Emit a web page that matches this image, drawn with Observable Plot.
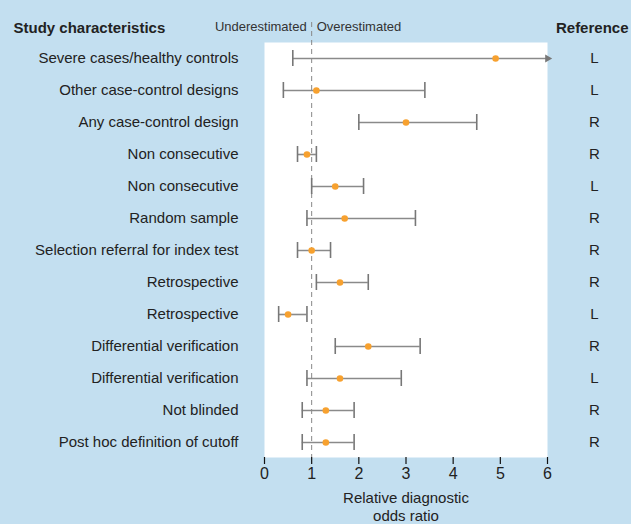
<!DOCTYPE html>
<html><head><meta charset="utf-8">
<script src="https://cdn.jsdelivr.net/npm/d3@7"></script>
<script src="https://cdn.jsdelivr.net/npm/@observablehq/plot@0.6"></script>
<style>
html,body{margin:0;padding:0;background:#c3dff0;}
#chart svg{display:block;}
</style></head><body><div id="chart"></div>
<script>
const labels = ["Severe cases/healthy controls","Other case-control designs","Any case-control design","Non consecutive ","Non consecutive","Random sample","Selection referral for index test","Retrospective ","Retrospective","Differential verification ","Differential verification","Not blinded","Post hoc definition of cutoff"];
const estimate = [4.9,1.1,3.0,0.9,1.5,1.7,1.0,1.6,0.5,2.2,1.6,1.3,1.3];
const lower = [0.6,0.4,2.0,0.7,1.0,0.9,0.7,1.1,0.3,1.5,0.9,0.8,0.8];
const upper = [6.0,3.4,4.5,1.1,2.1,3.2,1.4,2.2,0.9,3.3,2.9,1.9,1.9];
const openEnded = [true,false,false,false,false,false,false,false,false,false,false,false,false];
const reference = ["L","L","R","R","L","R","R","R","L","R","L","R","R"];
const xTicks = [0,1,2,3,4,5,6];

const rows = labels.map((label,i)=>({label, est:estimate[i], lo:lower[i], hi:upper[i], open:openEnded[i], ref:reference[i]}));
const refMap = new Map(rows.map(d=>[d.label,d.ref]));
const font = "'Liberation Sans', Arial, sans-serif";

const chart = Plot.plot({
  width: 631, height: 524,
  marginLeft: 264, marginRight: 84, marginTop: 42, marginBottom: 67,
  style: {background: "#c3dff0", fontFamily: font, fontSize: "15px", color: "#222"},
  x: {domain: [0,6], ticks: xTicks},
  y: {type: "band", domain: labels, paddingInner: 0.5, paddingOuter: 0.12},
  marks: [
    Plot.frame({fill: "white", stroke: null}),
    Plot.ruleX([1], {stroke: "#888", strokeDasharray: "5,4", insetTop: -20}),
    Plot.ruleY(rows, {y: "label", x1: "lo", x2: "hi", stroke: "#8a8a8a", strokeWidth: 1.6}),
    Plot.tickX(rows, {x: "lo", y: "label", stroke: "#777", strokeWidth: 1.6}),
    Plot.tickX(rows.filter(d=>!d.open), {x: "hi", y: "label", stroke: "#777", strokeWidth: 1.6}),
    Plot.dot(rows.filter(d=>d.open), {x: "hi", y: "label", symbol: "triangle", rotate: 90, r: 3, fill: "#777", stroke: null}),
    Plot.dot(rows, {x: "est", y: "label", r: 3.3, fill: "#f7a12f", stroke: null}),
    Plot.axisX({ticks: xTicks, tickFormat: "d", tickSize: 7, tickPadding: 3, stroke: "#111", strokeWidth: 1.2, fontSize: 16, color:"#222", label: null}),
    Plot.ruleY([0], {frameAnchor: "bottom", stroke: "#111", strokeWidth: 1.2}),
    Plot.axisY({tickSize: 0, tickPadding: 26, fontSize: 15, label: null, tickFormat: d => d.trim()}),
    Plot.axisY({anchor: "right", tickSize: 0, tickPadding: 47, textAnchor: "middle", fontSize: 15, label: null, tickFormat: d => refMap.get(d)}),
    Plot.text(["Underestimated"], {x: () => 1, frameAnchor: "top", dx: -5, dy: -12, lineAnchor: "bottom", textAnchor: "end", fontSize: 13, fill: "#333"}),
    Plot.text(["Overestimated"], {x: () => 1, frameAnchor: "top", dx: 5, dy: -12, lineAnchor: "bottom", textAnchor: "start", fontSize: 13, fill: "#333"}),
    Plot.text(["Study characteristics"], {frameAnchor: "top-left", dx: -251, dy: -20, textAnchor: "start", fontSize: 15, fontWeight: "bold", fill: "#222"}),
    Plot.text(["Reference"], {frameAnchor: "top-right", dx: 81, dy: -20, textAnchor: "end", fontSize: 15, fontWeight: "bold", fill: "#222"}),
    Plot.text(["Relative diagnostic\nodds ratio"], {frameAnchor: "bottom", dy: 33, lineAnchor: "top", lineHeight: 1.2, fontSize: 15, fill: "#222"})
  ]
});
document.getElementById("chart").append(chart);
</script></body></html>
